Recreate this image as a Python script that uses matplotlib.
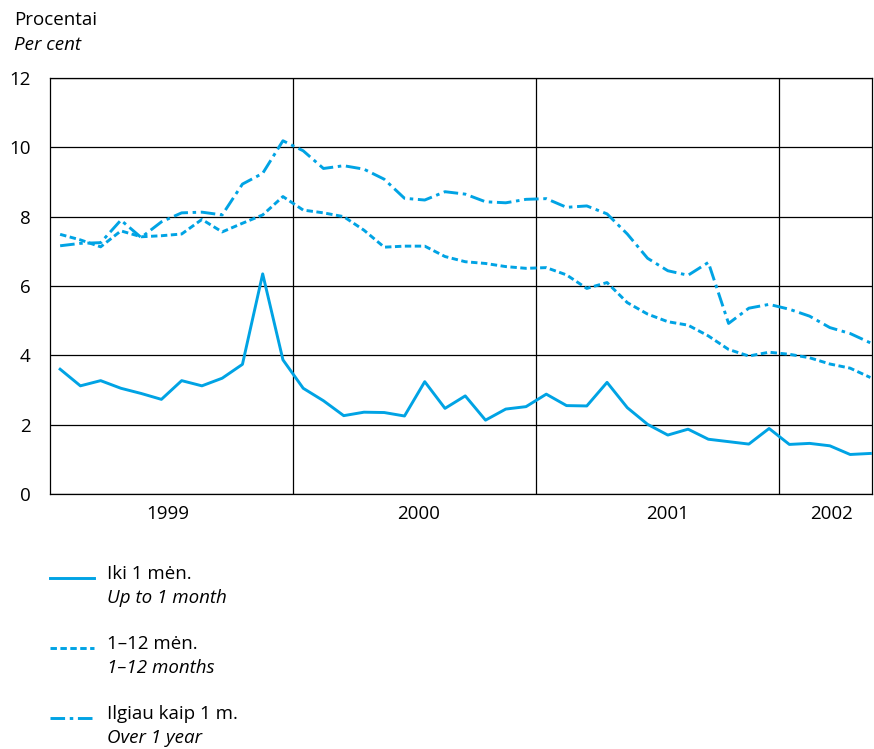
import matplotlib
matplotlib.use("Agg")
import matplotlib.pyplot as plt
from matplotlib.lines import Line2D

# monthly data, Jan 1999 - May 2002
up_to_1m = [3.60, 3.12, 3.27, 3.05, 2.90, 2.73, 3.27, 3.12, 3.34, 3.74, 6.35, 3.87,
            3.05, 2.69, 2.26, 2.36, 2.35, 2.25, 3.24, 2.47, 2.83, 2.13, 2.45, 2.52,
            2.88, 2.55, 2.54, 3.22, 2.49, 2.01, 1.70, 1.87, 1.58, 1.51, 1.44, 1.89,
            1.43, 1.46, 1.39, 1.14, 1.17]
m1_12 = [7.49, 7.33, 7.13, 7.59, 7.42, 7.45, 7.50, 7.92, 7.56, 7.81, 8.05, 8.58,
         8.19, 8.11, 8.00, 7.61, 7.12, 7.15, 7.15, 6.85, 6.70, 6.65, 6.56, 6.51,
         6.53, 6.32, 5.93, 6.10, 5.52, 5.19, 4.97, 4.87, 4.56, 4.17, 3.98, 4.09,
         4.03, 3.93, 3.75, 3.63, 3.36]
over_1y = [7.16, 7.23, 7.25, 7.90, 7.40, 7.85, 8.11, 8.13, 8.05, 8.94, 9.25, 10.19,
           9.90, 9.39, 9.47, 9.37, 9.08, 8.53, 8.48, 8.72, 8.65, 8.43, 8.40, 8.50,
           8.52, 8.27, 8.31, 8.08, 7.50, 6.80, 6.44, 6.31, 6.68, 4.92, 5.36, 5.47,
           5.33, 5.13, 4.80, 4.63, 4.36]
years = ["1999", "2000", "2001", "2002"]
year_months = [12, 12, 12, 5]
legend_top = ["Iki 1 mėn.", "1–12 mėn.", "Ilgiau kaip 1 m."]
legend_bottom = ["Up to 1 month", "1–12 months", "Over 1 year"]

plt.rcParams['font.family'] = ['Open Sans', 'DejaVu Sans']
color = '#00a3e4'
lw = 2.1
fs = 13.5

fig = plt.figure(figsize=(8.74, 7.49), dpi=100)
W, H = 874, 749
ax = fig.add_axes([50 / W, 1 - 494 / H, (872 - 50) / W, (494 - 78) / H])

x = list(range(len(up_to_1m)))
styles = ['-', (0, (2.2, 1.2)), (0, (5, 1.6, 1.2, 1.6))]
for vals, ls in zip([up_to_1m, m1_12, over_1y], styles):
    ax.plot(x, vals, color=color, lw=lw, linestyle=ls, zorder=3)

ax.set_xlim(-0.5, len(x) - 0.92)
ax.set_ylim(0, 12)
ax.set_yticks(range(0, 13, 2))
ax.tick_params(axis='y', length=0, labelsize=fs, pad=14)
ax.grid(axis='y', color='black', lw=0.9)

# year boundaries
start = -0.5
for n in year_months:
    start += n
    if start < len(x) - 1:
        ax.axvline(start, color='black', lw=0.9)
# year labels sit a bit off the exact year centres in the original
ax.set_xticks([5.3, 17.7, 30.0, 38.1])
ax.set_xticklabels(years)
ax.tick_params(axis='x', length=0, labelsize=fs, pad=8)
for s in ax.spines.values():
    s.set_linewidth(0.9)

fig.text(14 / W, 1 - 20 / H, "Procentai", fontsize=fs, va='center')
fig.text(14 / W, 1 - 45 / H, "Per cent", fontsize=fs, style='italic', va='center')

# legend
leg_y = [578, 648, 718]
for i in range(3):
    y = 1 - leg_y[i] / H
    fig.add_artist(Line2D([50 / W, 94 / W], [y, y], color=color, lw=lw,
                          linestyle=styles[i]))
    fig.text(107 / W, y + 4 / H, legend_top[i], fontsize=fs, va='center')
    fig.text(107 / W, y - 20 / H, legend_bottom[i], fontsize=fs,
             style='italic', va='center')

fig.savefig("out.png", dpi=100)
